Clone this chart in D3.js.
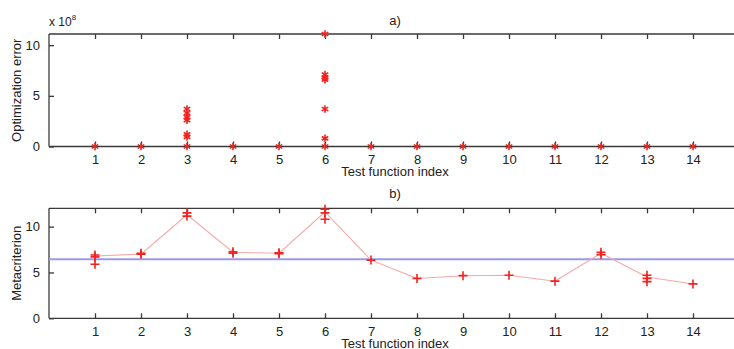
<!DOCTYPE html>
<html>
<head>
<meta charset="utf-8">
<script src="https://cdn.jsdelivr.net/npm/d3@7"></script>
<style>
  html, body { margin: 0; padding: 0; background: #fff; }
  svg { display: block; font-family: "Liberation Sans", Arial, sans-serif; }
</style>
</head>
<body>
<svg id="chart" width="734" height="349"></svg>
<script>
// Test function indices
const functionIndex = [1, 2, 3, 4, 5, 6, 7, 8, 9, 10, 11, 12, 13, 14];

// a) optimization error of each run (units of 1e8), one list per test function
const optimizationError = [
  [0], [0], [3.7, 3.3, 2.9, 2.6, 1.2, 0.95, 0], [0], [0],
  [11.1, 7.1, 6.8, 6.6, 3.7, 0.8, 0], [0], [0], [0], [0], [0], [0], [0], [0]
];

// b) metacriterion of each run, one list per test function
const metacriterionRuns = [
  [6.9, 6.7, 5.9], [7.0, 7.1], [11.5, 11.15], [7.25, 7.1], [7.15, 7.05],
  [11.9, 11.5, 10.8], [6.35], [4.35], [4.65], [4.7], [4.05], [7.2, 6.95],
  [4.7, 4.35, 4.0], [3.75]
];

// connecting line through the typical metacriterion of each function
const metacriterionLine = [6.8, 7.0, 11.3, 7.2, 7.1, 11.6, 6.35, 4.35, 4.65, 4.7, 4.05, 7.1, 4.5, 3.75];

// reference level drawn across panel b)
const referenceLevel = 6.43;

const errorTicks = [0, 5, 10];
const metaTicks = [0, 5, 10];

const svg = d3.select("#chart");
const axisColor = "#3a3a3a";
const markColor = "#f0231e";

const x = d3.scaleLinear().domain([0, 15]).range([49, 739]);

function panel(yScale, yTicks, opts) {
  const [y0, y1] = yScale.range();
  const g = svg.append("g");
  // box edges (left, right, bottom, top)
  g.append("line").attr("x1", x(0)).attr("x2", x(0)).attr("y1", y0).attr("y2", y1)
    .attr("stroke", axisColor).attr("stroke-width", 1.3);
  g.append("line").attr("x1", x(15)).attr("x2", x(15)).attr("y1", y0).attr("y2", y1)
    .attr("stroke", axisColor).attr("stroke-width", 1.3);
  [y0, y1].forEach(yy => g.append("line").attr("x1", x(0)).attr("x2", x(15))
    .attr("y1", yy).attr("y2", yy).attr("stroke", axisColor).attr("stroke-width", 1.3));

  // x ticks: inward from top and bottom edges, labels below
  const xAxisBottom = d3.axisBottom(x).tickValues(functionIndex).tickSize(-5).tickPadding(8)
    .tickFormat(d3.format("d"));
  const gxb = g.append("g").attr("transform", `translate(0,${y0})`).call(xAxisBottom);
  const xAxisTop = d3.axisTop(x).tickValues(functionIndex).tickSize(-5).tickFormat("");
  const gxt = g.append("g").attr("transform", `translate(0,${y1})`).call(xAxisTop);

  // y ticks: inward from left and right edges
  const yAxisLeft = d3.axisLeft(yScale).tickValues(yTicks).tickSize(-5).tickPadding(9)
    .tickFormat(d3.format("d"));
  const gyl = g.append("g").attr("transform", `translate(${x(0)},0)`).call(yAxisLeft);
  const yAxisRight = d3.axisRight(yScale).tickValues(yTicks).tickSize(-5).tickFormat("");
  const gyr = g.append("g").attr("transform", `translate(${x(15)},0)`).call(yAxisRight);

  [gxb, gxt, gyl, gyr].forEach(a => {
    a.select(".domain").remove();
    a.selectAll(".tick line").attr("stroke", axisColor).attr("stroke-width", 1.3);
    a.selectAll("text").attr("fill", "#222").attr("font-size", 13);
  });

  // title and axis labels
  svg.append("text").attr("x", 395).attr("y", opts.titleY).attr("text-anchor", "middle")
    .attr("font-size", 13).attr("fill", "#222").text(opts.title);
  svg.append("text").attr("x", 395).attr("y", y0 + 29.5).attr("text-anchor", "middle")
    .attr("font-size", 13).attr("fill", "#222").text("Test function index");
  svg.append("text")
    .attr("transform", `translate(21,${(y0 + y1) / 2}) rotate(-90)`)
    .attr("text-anchor", "middle").attr("font-size", 13).attr("fill", "#222")
    .text(opts.ylabel);
  return g;
}

// ---------- panel a) ----------
const yA = d3.scaleLinear().domain([0, 11.1]).range([146.5, 34]);
const gA = panel(yA, errorTicks, { title: "a)", titleY: 25, ylabel: "Optimization error" });

svg.append("text").attr("x", 49).attr("y", 26).attr("font-size", 12).attr("fill", "#222")
  .text("x 10").append("tspan").attr("dy", -6).attr("font-size", 8).text("8");

const starPts = [];
functionIndex.forEach((f, i) => optimizationError[i].forEach(v => starPts.push({ f, v })));
const star = d3.symbol().type(d3.symbolAsterisk).size(40);
gA.append("g").selectAll("path").data(starPts).join("path")
  .attr("transform", d => `translate(${x(d.f)},${yA(d.v)})`)
  .attr("d", star)
  .attr("fill", "none").attr("stroke", markColor).attr("stroke-width", 1.6);

// ---------- panel b) ----------
const yB = d3.scaleLinear().domain([0, 12]).range([318.3, 208.3]);
const gB = panel(yB, metaTicks, { title: "b)", titleY: 198, ylabel: "Metacriterion" });

gB.append("line").attr("x1", x(0)).attr("x2", x(15))
  .attr("y1", yB(referenceLevel)).attr("y2", yB(referenceLevel))
  .attr("stroke", "#9a9ae8").attr("stroke-width", 2);

gB.append("path").datum(functionIndex.map((f, i) => [f, metacriterionLine[i]]))
  .attr("d", d3.line().x(d => x(d[0])).y(d => yB(d[1])))
  .attr("fill", "none").attr("stroke", "#f6a9a6").attr("stroke-width", 1.1);

// plus markers for each run
const plusPts = [];
functionIndex.forEach((f, i) => metacriterionRuns[i].forEach(v => plusPts.push({ f, v })));
gB.append("g").selectAll("path").data(plusPts).join("path")
  .attr("transform", d => `translate(${x(d.f)},${yB(d.v)})`)
  .attr("d", () => {
    const r = 4.5;
    return `M${-r},0H${r}M0,${-r}V${r}`;
  })
  .attr("fill", "none").attr("stroke", markColor).attr("stroke-width", 1.6);
</script>
</body>
</html>
